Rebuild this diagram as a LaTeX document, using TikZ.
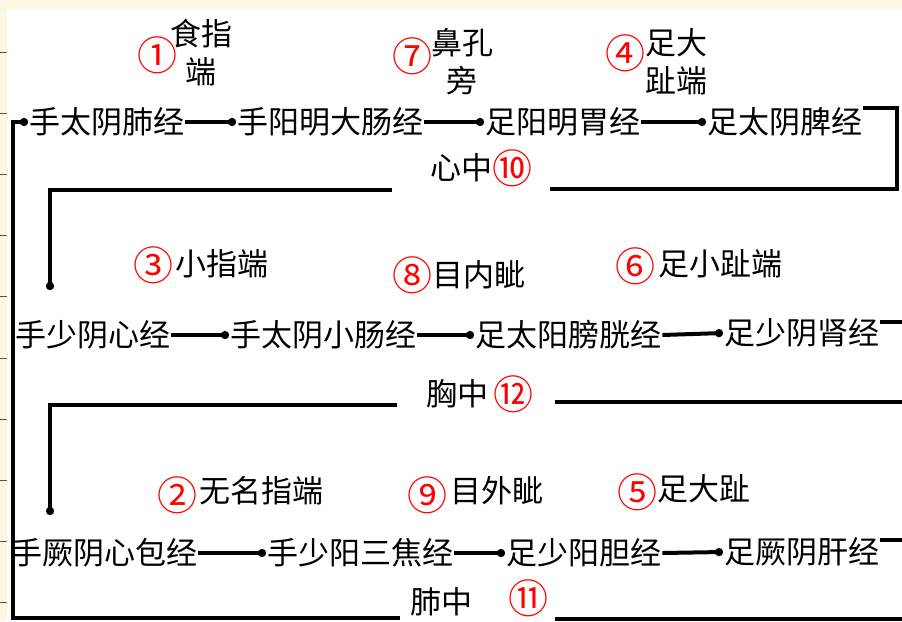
\documentclass[tikz,border=0pt]{standalone}
\usepackage{fontspec}
\setmainfont{Noto Sans CJK SC}
\usetikzlibrary{
arrows.meta,
calc,
positioning
}
\definecolor{creme}{RGB}{253,248,228}
\definecolor{strich}{RGB}{150,55,55}
\newcommand{\jingfont}{\fontsize{31}{38}\selectfont}
\newcommand{\haofont}{\fontsize{40}{40}\selectfont}

\begin{document}
\begin{tikzpicture}[x=1pt,y=-1pt,
 jing/.style={font=\jingfont, inner sep=1pt, anchor=west},
 hao/.style={text=red, font=\haofont, inner sep=0pt},
 ort/.style={font=\jingfont, align=center, inner sep=0pt},
 pfeil/.style={line width=4pt, -{Circle[length=8pt]}},
 bahn/.style={line width=4pt}
]
\useasboundingbox (0,0) rectangle (902,621);
\fill[creme] (0,0) rectangle (902,621);
\fill[white] (7,10) rectangle (902,621);
\foreach \i [evaluate=\i as \y using 52+61.2*\i] in {0,...,9} %randstriche
{   \draw[strich, line width=1pt] (0,\y) -- (7,\y);
}

% reihe 1
\node[jing] (fei) at (28,122) {手太阴肺经};
\node[jing] (dachang) at (236,122) {手阳明大肠经};
\node[jing] (wei) at (484,122) {足阳明胃经};
\node[jing] (pi) at (706,122) {足太阴脾经};
% reihe 2
\node[jing] (xin) at (14,335) {手少阴心经};
\node[jing] (xiaochang) at (229,335) {手太阴小肠经};
\node[jing] (pangguang) at (474,335) {足太阳膀胱经};
\node[jing] (shen) at (723,333) {足少阴肾经};
% reihe 3
\node[jing] (xinbao) at (10,553) {手厥阴心包经};
\node[jing] (sanjiao) at (266,553) {手少阳三焦经};
\node[jing] (dan) at (505,553) {足少阳胆经};
\node[jing] (gan) at (723,552) {足厥阴肝经};

% orte
\node[hao] (n1) at (157,55) {①};
\node[ort] (t1) at (201,53) {食指\\端};
\node[hao] (n7) at (412,56) {⑦};
\node[ort] (t7) at (462,62) {鼻孔\\旁};
\node[hao] (n4) at (625,53) {④};
\node[ort] (t4) at (676,62) {足大\\趾端};
\node[hao] (n3) at (153,265) {③};
\node[ort] (t3) at (222,264) {小指端};
\node[hao] (n8) at (412,275) {⑧};
\node[ort] (t8) at (479,275) {目内眦};
\node[hao] (n6) at (635,266) {⑥};
\node[ort] (t6) at (720,264) {足小趾端};
\node[hao] (n2) at (177,495) {②};
\node[ort] (t2) at (261,491) {无名指端};
\node[hao] (n9) at (427,495) {⑨};
\node[ort] (t9) at (497,491) {目外眦};
\node[hao] (n5) at (637,492) {⑤};
\node[ort] (t5) at (704,489) {足大趾};

\node[ort] (xinzhong) at (461,168) {心中};
\node[hao, right=0pt of xinzhong] (n10) {⑩};
\node[ort] (xiongzhong) at (457,394) {胸中};
\node[hao, right=5pt of xiongzhong] (n12) {⑫};
\node[ort] (feizhong) at (441,602) {肺中};
\node[hao, right=36pt of feizhong, yshift=4pt] (n11) {⑪};

\foreach \a/\b in {fei/dachang,dachang/wei,wei/pi,xin/xiaochang,xiaochang/pangguang,pangguang/shen,xinbao/sanjiao,sanjiao/dan,dan/gan}
{   \draw[pfeil] (\a.east) -- (\b.west);
}

\coordinate (rand) at (902,0);
\coordinate (rechts1) at (897,0);
\coordinate (links) at (13,0);

\coordinate (xz-r) at (550,189);
\coordinate (xz-l) at (392,190);
\coordinate (xin-ein) at (50,290);
\draw[bahn] ([yshift=14pt]pi.east) -| (rechts1 |- xz-r) -- (xz-r); %herz
\draw[pfeil] (xz-l) -| (xin-ein);

\coordinate (xg-r) at (555,402);
\coordinate (xg-l) at (397,405);
\coordinate (xinbao-ein) at (50,515);
\draw[bahn] ([yshift=11pt]shen.east) -- ([yshift=11pt]shen.east -| rand); %brust
\draw[bahn] (xg-r) -- (xg-r -| rand);
\draw[pfeil] (xg-l) -| (xinbao-ein);

\coordinate (fz-r) at (555,619);
\coordinate (fz-l) at (400,618);
\draw[bahn] ([yshift=12pt]gan.east) -- ([yshift=12pt]gan.east -| rand); %lunge
\draw[bahn] (fz-r) -- (fz-r -| rand);
\draw[pfeil] (fz-l) -| (links |- fei.west) -- (fei.west);
\end{tikzpicture}
\end{document}
